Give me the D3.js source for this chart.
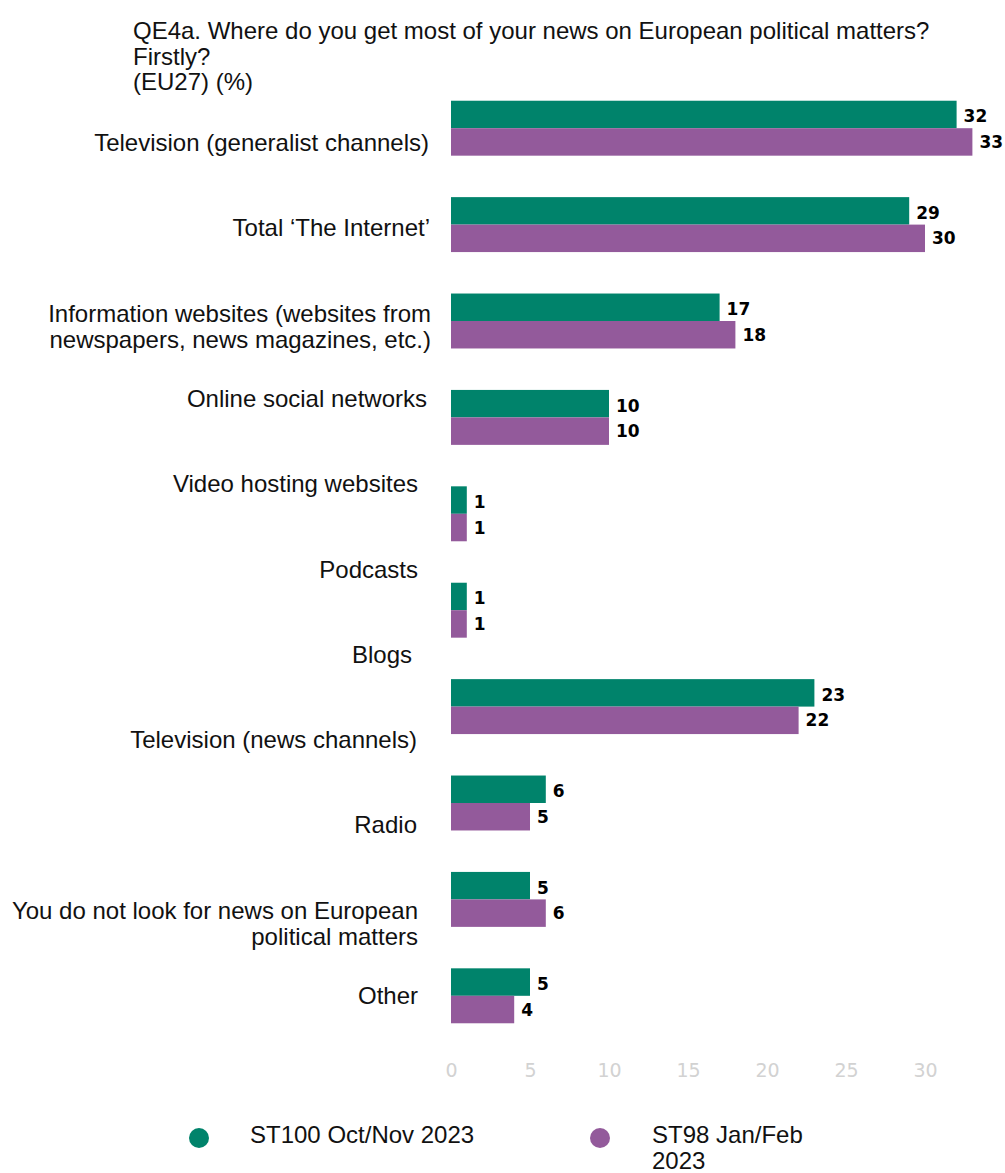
<!DOCTYPE html>
<html>
<head>
<meta charset="utf-8">
<script src="https://cdn.jsdelivr.net/npm/d3@7"></script>
<style>
  html, body { margin: 0; padding: 0; background: #ffffff; }
  svg { display: block; }
</style>
</head>
<body>
<svg id="chart" width="1005" height="1173"></svg>
<script>
// Survey question and legend text
const titleLines = [
  "QE4a. Where do you get most of your news on European political matters?",
  "Firstly?",
  "(EU27) (%)"
];

// Category labels shown on the left (11 answers)
const categoryLabels = [
  ["Television (generalist channels)"],
  ["Total \u2018The Internet\u2019"],
  ["Information websites (websites from", "newspapers, news magazines, etc.)"],
  ["Online social networks"],
  ["Video hosting websites"],
  ["Podcasts"],
  ["Blogs"],
  ["Television (news channels)"],
  ["Radio"],
  ["You do not look for news on European", "political matters"],
  ["Other"]
];

// Bar groups (10 pairs of bars)
const barGroups = ["g1", "g2", "g3", "g4", "g5", "g6", "g7", "g8", "g9", "g10"];
const st100 = [32, 29, 17, 10, 1, 1, 23, 6, 5, 5];
const st98  = [33, 30, 18, 10, 1, 1, 22, 5, 6, 4];

const seriesNames = ["ST100 Oct/Nov 2023", ["ST98 Jan/Feb", "2023"]];
const xTicks = [0, 5, 10, 15, 20, 25, 30];

// ---- layout ----
const GREEN = "#00836b";
const PURPLE = "#935a9b";
const labelRight = [429, 430, 431, 427, 418, 418, 412, 417, 417, 418, 418];
const FONT = "Liberation Sans, Arial, sans-serif";

const svg = d3.select("#chart");

const x = d3.scaleLinear().domain([0, 30]).range([451, 925]);
const yGroup = d3.scaleBand().domain(barGroups).range([80, 1044])
  .paddingInner(0.43).paddingOuter(0.215);
const yLabel = d3.scalePoint().domain(d3.range(categoryLabels.length)).range([151, 1004]);

// Title
svg.append("g").selectAll("text").data(titleLines).join("text")
  .attr("x", 133)
  .attr("y", (d, i) => 39 + i * 25.5)
  .attr("font-family", FONT)
  .attr("font-size", 24)
  .attr("fill", "#111")
  .text(d => d);

// Category labels
const lab = svg.append("g").selectAll("text").data(categoryLabels).join("text")
  .attr("text-anchor", "end")
  .attr("font-family", FONT)
  .attr("font-size", 24)
  .attr("fill", "#111")
  .attr("y", (d, i) => yLabel(i));
lab.selectAll("tspan").data((d, i) => d.map(t => ({ t, i }))).join("tspan")
  .attr("x", d => labelRight[d.i])
  .attr("dy", (d, j) => j === 0 ? 0 : 26)
  .text(d => d.t);

// Bars
const barH = yGroup.bandwidth() / 2;
const rows = barGroups.map((g, i) => [
  { g, v: st100[i], k: 0, c: GREEN },
  { g, v: st98[i], k: 1, c: PURPLE }
]).flat();

const bars = svg.append("g");
bars.selectAll("rect").data(rows).join("rect")
  .attr("x", x(0))
  .attr("y", d => yGroup(d.g) + d.k * barH)
  .attr("width", d => x(d.v) - x(0))
  .attr("height", barH)
  .attr("fill", d => d.c);

bars.selectAll("text").data(rows).join("text")
  .attr("x", d => x(d.v) + 7)
  .attr("y", d => yGroup(d.g) + d.k * barH + barH / 2 + (d.k === 0 ? 2 : 0))
  .attr("dominant-baseline", "central")
  .attr("font-family", "DejaVu Sans, Verdana, sans-serif")
  .attr("font-weight", "bold")
  .attr("font-size", 17)
  .attr("fill", "#000")
  .text(d => d.v);

// X axis (labels only)
const axis = svg.append("g")
  .attr("transform", "translate(0,1063)")
  .call(d3.axisBottom(x).tickValues(xTicks).tickSize(0).tickPadding(0));
axis.select(".domain").remove();
axis.selectAll("text")
  .attr("dy", "0.71em")
  .attr("font-family", "DejaVu Sans, Verdana, sans-serif")
  .attr("font-size", 19)
  .attr("fill", "#d2d2d2");

// Legend
const legend = svg.append("g");
const legendItems = [
  { c: GREEN, cx: 199, tx: 250, lines: [seriesNames[0]] },
  { c: PURPLE, cx: 600, tx: 652, lines: seriesNames[1] }
];
legendItems.forEach(it => {
  legend.append("circle").attr("cx", it.cx).attr("cy", 1138).attr("r", 10).attr("fill", it.c);
  const t = legend.append("text")
    .attr("font-family", FONT)
    .attr("font-size", 24)
    .attr("fill", "#111")
    .attr("y", 1143);
  it.lines.forEach((l, j) => t.append("tspan").attr("x", it.tx).attr("dy", j === 0 ? 0 : 26).text(l));
});
</script>
</body>
</html>
